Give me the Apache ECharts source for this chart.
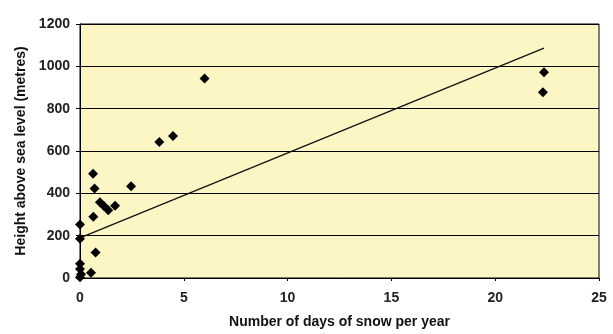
<!DOCTYPE html>
<html>
<head>
<meta charset="utf-8">
<script src="https://cdn.jsdelivr.net/npm/echarts@6/dist/echarts.min.js"></script>
<style>html,body{margin:0;padding:0;background:#fff;}#c{width:613px;height:334px;}</style>
</head>
<body>
<div id="c"></div>
<script>
const snowDays = [22.35, 22.3, 6.0, 4.48, 3.82, 2.46, 0.63, 0.7, 0.96, 1.15, 1.36, 1.69, 0.64, 0, 0, 0.75, 0, 0, 0.53, 0.05, 0];
const heights  = [972, 877, 943, 671, 643, 434, 493, 423, 358, 340, 320, 341, 289, 253, 185, 121, 67, 43, 25, 18, 4];
const trendX = [0, 22.35];
const trendY = [190, 1086];
const xTicks = [0, 5, 10, 15, 20, 25];
const yTicks = [0, 200, 400, 600, 800, 1000, 1200];
const xTitle = 'Number of days of snow per year';
const yTitle = 'Height above sea level (metres)';

const pts = snowDays.map((x, i) => [x, heights[i]]);
const trend = trendX.map((x, i) => [x, trendY[i]]);
const font = 'Liberation Sans, Arial, sans-serif';

const chart = echarts.init(document.getElementById('c'), null, {renderer: 'canvas'});
chart.setOption({
  animation: false,
  backgroundColor: '#ffffff',
  grid: {left: 80, right: 14, top: 24, bottom: 53, show: true, backgroundColor: '#FBF6C4', borderColor: '#000', borderWidth: 1},
  xAxis: {
    type: 'value', min: xTicks[0], max: xTicks[xTicks.length-1], interval: 5,
    name: xTitle, nameLocation: 'middle', nameGap: 37,
    nameTextStyle: {fontFamily: font, fontSize: 14, fontWeight: 'bold', color: '#111'},
    axisLine: {lineStyle: {color: '#000', width: 1}},
    axisTick: {show: true, length: 3, lineStyle: {color: '#000'}},
    axisLabel: {fontFamily: font, fontSize: 14, fontWeight: 'bold', color: '#222', margin: 13, formatter: v => String(v)},
    splitLine: {show: false}
  },
  yAxis: {
    type: 'value', min: yTicks[0], max: yTicks[yTicks.length-1], interval: 200,
    name: yTitle, nameLocation: 'middle', nameGap: 51, nameRotate: 90,
    nameTextStyle: {fontFamily: font, fontSize: 14, fontWeight: 'bold', color: '#111'},
    axisLine: {show: true, lineStyle: {color: '#000', width: 1}},
    axisTick: {show: true, length: 4, lineStyle: {color: '#000'}},
    axisLabel: {fontFamily: font, fontSize: 14, fontWeight: 'bold', color: '#222', margin: 10, formatter: v => String(v)},
    splitLine: {show: true, lineStyle: {color: '#000', width: 1.2}}
  },
  series: [
    {type: 'line', data: trend, symbol: 'none', lineStyle: {color: '#111', width: 1.3}, z: 2},
    {type: 'scatter', data: pts, symbol: 'diamond', symbolSize: 10, itemStyle: {color: '#000', opacity: 1}, z: 3}
  ]
});
</script>
</body>
</html>
